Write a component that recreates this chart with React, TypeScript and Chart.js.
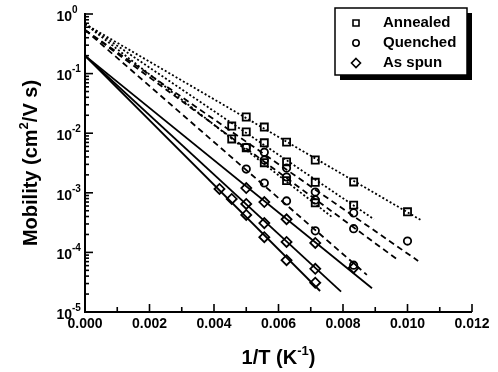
import React, { useEffect, useRef } from 'react';
import { Chart, registerables } from 'chart.js';

Chart.register(...registerables);

// ---- axis ticks ----
const xTickValues = [0, 0.002, 0.004, 0.006, 0.008, 0.01, 0.012];
const xTickLabels = ['0.000', '0.002', '0.004', '0.006', '0.008', '0.010', '0.012'];
const xMinorTicks = [0.001, 0.003, 0.005, 0.007, 0.009, 0.011];
const yTickExponents = [0, -1, -2, -3, -4, -5];

// ---- Annealed (squares, dotted fits) ----
const annealedA_x = [0.005, 0.00556, 0.00625, 0.00714, 0.00833, 0.01];
const annealedA_mu = [0.0187, 0.0127, 0.0071, 0.00355, 0.00152, 4.8e-4];
const annealedB_x = [0.00455, 0.005, 0.00556, 0.00625, 0.00714, 0.00833];
const annealedB_mu = [0.0132, 0.0105, 0.0069, 0.0033, 0.0015, 6.2e-4];
const annealedC_x = [0.00455, 0.005, 0.00556, 0.00625, 0.00714];
const annealedC_mu = [0.008, 0.0057, 0.0032, 0.0016, 6.8e-4];

// ---- Quenched (circles, dashed fits) ----
const quenchedA_x = [0.00556, 0.00625, 0.00714, 0.00833, 0.01];
const quenchedA_mu = [0.0048, 0.0026, 0.00103, 4.6e-4, 1.55e-4];
const quenchedB_x = [0.005, 0.00556, 0.00625, 0.00714, 0.00833];
const quenchedB_mu = [0.0058, 0.00355, 0.00184, 7.6e-4, 2.5e-4];
const quenchedC_x = [0.005, 0.00556, 0.00625, 0.00714, 0.00833];
const quenchedC_mu = [0.0025, 0.00146, 7.3e-4, 2.3e-4, 6.1e-5];

// ---- As spun (diamonds, solid fits) ----
const spunA_x = [0.00417, 0.00455, 0.005, 0.00556, 0.00625, 0.00714];
const spunA_mu = [1.16e-3, 7.9e-4, 4.25e-4, 1.8e-4, 7.4e-5, 3.1e-5];
const spunB_x = [0.005, 0.00556, 0.00625, 0.00714];
const spunB_mu = [6.5e-4, 3.1e-4, 1.5e-4, 5.3e-5];
const spunC_x = [0.005, 0.00556, 0.00625, 0.00714, 0.00833];
const spunC_mu = [1.2e-3, 7.0e-4, 3.6e-4, 1.44e-4, 5.5e-5];

// ---- Fit lines (endpoints) ----
const fitAnnealedA_x = [0, 0.01045];
const fitAnnealedA_mu = [0.68, 3.4e-4];
const fitAnnealedB_x = [0, 0.00896];
const fitAnnealedB_mu = [0.68, 3.6e-4];
const fitAnnealedC_x = [0, 0.00769];
const fitAnnealedC_mu = [0.68, 3.8e-4];
const fitQuenchedA_x = [0, 0.01033];
const fitQuenchedA_mu = [0.54, 7.2e-5];
const fitQuenchedB_x = [0, 0.00967];
const fitQuenchedB_mu = [0.54, 7.7e-5];
const fitQuenchedC_x = [0, 0.00874];
const fitQuenchedC_mu = [0.54, 4.2e-5];
const fitSpunA_x = [0, 0.00729];
const fitSpunA_mu = [0.2, 2.25e-5];
const fitSpunB_x = [0, 0.00794];
const fitSpunB_mu = [0.2, 2.2e-5];
const fitSpunC_x = [0, 0.0089];
const fitSpunC_mu = [0.2, 2.5e-5];

const legendLabels = ['Annealed', 'Quenched', 'As spun'];
const legendStyles = ['rect', 'circle', 'rectRot'];

const FONT = '"Liberation Sans", Arial, Helvetica, sans-serif';

const pts = (xs: number[], ys: number[]) => xs.map((x, i) => ({ x, y: ys[i] }));

const pointSet = (xs: number[], ys: number[], style: string, r: number) => ({
  data: pts(xs, ys),
  showLine: false,
  pointStyle: style,
  pointRadius: r,
  pointBorderWidth: 1.8,
  pointBorderColor: '#000',
  pointBackgroundColor: 'rgba(0,0,0,0)',
});

const lineSet = (xs: number[], ys: number[], dash: number[], w: number) => ({
  data: pts(xs, ys),
  showLine: true,
  pointRadius: 0,
  borderColor: '#000',
  borderWidth: w,
  borderDash: dash,
  fill: false,
});

type Seg = { t: string; size: number; dy: number };

function segWidth(ctx: CanvasRenderingContext2D, segs: Seg[]) {
  let w = 0;
  for (const s of segs) {
    ctx.font = `bold ${s.size}px ${FONT}`;
    w += ctx.measureText(s.t).width;
  }
  return w;
}

function drawSegs(ctx: CanvasRenderingContext2D, segs: Seg[], cx: number, cy: number) {
  let x = cx - segWidth(ctx, segs) / 2;
  ctx.textAlign = 'left';
  ctx.textBaseline = 'middle';
  for (const s of segs) {
    ctx.font = `bold ${s.size}px ${FONT}`;
    ctx.fillText(s.t, x, cy + s.dy);
    x += ctx.measureText(s.t).width;
  }
}

function drawMarker(ctx: CanvasRenderingContext2D, style: string, x: number, y: number) {
  ctx.beginPath();
  if (style === 'rect') {
    ctx.rect(x - 3, y - 3, 6, 6);
  } else if (style === 'circle') {
    ctx.arc(x, y, 3.2, 0, Math.PI * 2);
  } else {
    ctx.moveTo(x, y - 4.5);
    ctx.lineTo(x + 4.5, y);
    ctx.lineTo(x, y + 4.5);
    ctx.lineTo(x - 4.5, y);
    ctx.closePath();
  }
  ctx.stroke();
}

const axesPlugin = {
  id: 'customAxes',
  afterDraw(chart: any) {
    const ctx: CanvasRenderingContext2D = chart.ctx;
    const xs = chart.scales.x;
    const ys = chart.scales.y;
    const { left, right, top, bottom } = chart.chartArea;
    ctx.save();
    ctx.strokeStyle = '#000';
    ctx.fillStyle = '#000';
    ctx.setLineDash([]);

    // axis lines
    ctx.lineWidth = 2;
    ctx.beginPath();
    ctx.moveTo(left, top - 1);
    ctx.lineTo(left, bottom);
    ctx.lineTo(right, bottom);
    ctx.stroke();

    // x ticks
    ctx.lineWidth = 1.6;
    for (const v of xTickValues) {
      const px = xs.getPixelForValue(v);
      ctx.beginPath();
      ctx.moveTo(px, bottom);
      ctx.lineTo(px, bottom - 8);
      ctx.stroke();
    }
    for (const v of xMinorTicks) {
      const px = xs.getPixelForValue(v);
      ctx.beginPath();
      ctx.moveTo(px, bottom);
      ctx.lineTo(px, bottom - 5);
      ctx.stroke();
    }
    ctx.font = `bold 14px ${FONT}`;
    ctx.textAlign = 'center';
    ctx.textBaseline = 'middle';
    xTickValues.forEach((v, i) => {
      ctx.fillText(xTickLabels[i], xs.getPixelForValue(v), bottom + 12);
    });

    // y ticks
    for (const e of yTickExponents) {
      const py = ys.getPixelForValue(Math.pow(10, e));
      ctx.beginPath();
      ctx.moveTo(left, py);
      ctx.lineTo(left + 8, py);
      ctx.stroke();
      if (e > -5) {
        for (let k = 2; k <= 9; k++) {
          const pm = ys.getPixelForValue(k * Math.pow(10, e - 1));
          ctx.beginPath();
          ctx.moveTo(left, pm);
          ctx.lineTo(left + 4, pm);
          ctx.stroke();
        }
      }
      // label 10^e
      ctx.textBaseline = 'middle';
      ctx.font = `bold 14px ${FONT}`;
      ctx.textAlign = 'right';
      ctx.fillText('10', left - 13, py + 3);
      ctx.font = `bold 10px ${FONT}`;
      ctx.textAlign = 'left';
      ctx.fillText(e === 0 ? '0' : '-' + String(-e), left - 13, py - 4);
    }

    // axis titles
    drawSegs(
      ctx,
      [
        { t: '1/T (K', size: 20, dy: 0 },
        { t: '-1', size: 13, dy: -7 },
        { t: ')', size: 20, dy: 0 },
      ],
      (left + right) / 2,
      bottom + 46
    );
    ctx.save();
    ctx.translate(31, (top + bottom) / 2);
    ctx.rotate(-Math.PI / 2);
    drawSegs(
      ctx,
      [
        { t: 'Mobility (cm', size: 20, dy: 0 },
        { t: '2', size: 13, dy: -7 },
        { t: '/V s)', size: 20, dy: 0 },
      ],
      0,
      0
    );
    ctx.restore();

    // legend box with shadow
    const bx = 335, by = 8, bw = 132, bh = 67;
    ctx.fillStyle = '#000';
    ctx.fillRect(bx + 5, by + 5, bw, bh);
    ctx.fillStyle = '#fff';
    ctx.fillRect(bx, by, bw, bh);
    ctx.lineWidth = 1.5;
    ctx.strokeRect(bx, by, bw, bh);
    ctx.fillStyle = '#000';
    ctx.lineWidth = 1.6;
    legendLabels.forEach((lab, i) => {
      const ly = by + 15 + i * 20;
      drawMarker(ctx, legendStyles[i], bx + 21, ly);
      ctx.font = `bold 15px ${FONT}`;
      ctx.textAlign = 'left';
      ctx.textBaseline = 'middle';
      ctx.fillText(lab, bx + 48, ly);
    });
    ctx.restore();
  },
};

export default function App() {
  const ref = useRef<HTMLCanvasElement | null>(null);
  useEffect(() => {
    if (!ref.current) return;
    const dotted = [2, 2.2];
    const dashed = [6, 4];
    const chart = new Chart(ref.current, {
      type: 'scatter',
      data: {
        datasets: [
          lineSet(fitAnnealedA_x, fitAnnealedA_mu, dotted, 1.8),
          lineSet(fitAnnealedB_x, fitAnnealedB_mu, dotted, 1.8),
          lineSet(fitAnnealedC_x, fitAnnealedC_mu, dotted, 1.8),
          lineSet(fitQuenchedA_x, fitQuenchedA_mu, dashed, 1.8),
          lineSet(fitQuenchedB_x, fitQuenchedB_mu, dashed, 1.8),
          lineSet(fitQuenchedC_x, fitQuenchedC_mu, dashed, 1.8),
          lineSet(fitSpunA_x, fitSpunA_mu, [], 1.8),
          lineSet(fitSpunB_x, fitSpunB_mu, [], 1.8),
          lineSet(fitSpunC_x, fitSpunC_mu, [], 1.8),
          pointSet(annealedA_x, annealedA_mu, 'rect', 5),
          pointSet(annealedB_x, annealedB_mu, 'rect', 5),
          pointSet(annealedC_x, annealedC_mu, 'rect', 5),
          pointSet(quenchedA_x, quenchedA_mu, 'circle', 3.7),
          pointSet(quenchedB_x, quenchedB_mu, 'circle', 3.7),
          pointSet(quenchedC_x, quenchedC_mu, 'circle', 3.7),
          pointSet(spunA_x, spunA_mu, 'rectRot', 5),
          pointSet(spunB_x, spunB_mu, 'rectRot', 5),
          pointSet(spunC_x, spunC_mu, 'rectRot', 5),
        ] as any,
      },
      options: {
        animation: false,
        responsive: false,
        devicePixelRatio: 1,
        layout: { padding: { left: 85, right: 26, top: 14, bottom: 60 } },
        plugins: { legend: { display: false }, tooltip: { enabled: false } },
        scales: {
          x: { type: 'linear', min: 0, max: 0.012, display: false },
          y: { type: 'logarithmic', min: 1e-5, max: 1, display: false },
        },
      } as any,
      plugins: [axesPlugin],
    });
    return () => chart.destroy();
  }, []);
  return (
    <div style={{ position: 'absolute', left: 0, top: 0, width: 498, height: 372, background: '#fff' }}>
      <canvas ref={ref} width={498} height={372} style={{ display: 'block' }} />
    </div>
  );
}
